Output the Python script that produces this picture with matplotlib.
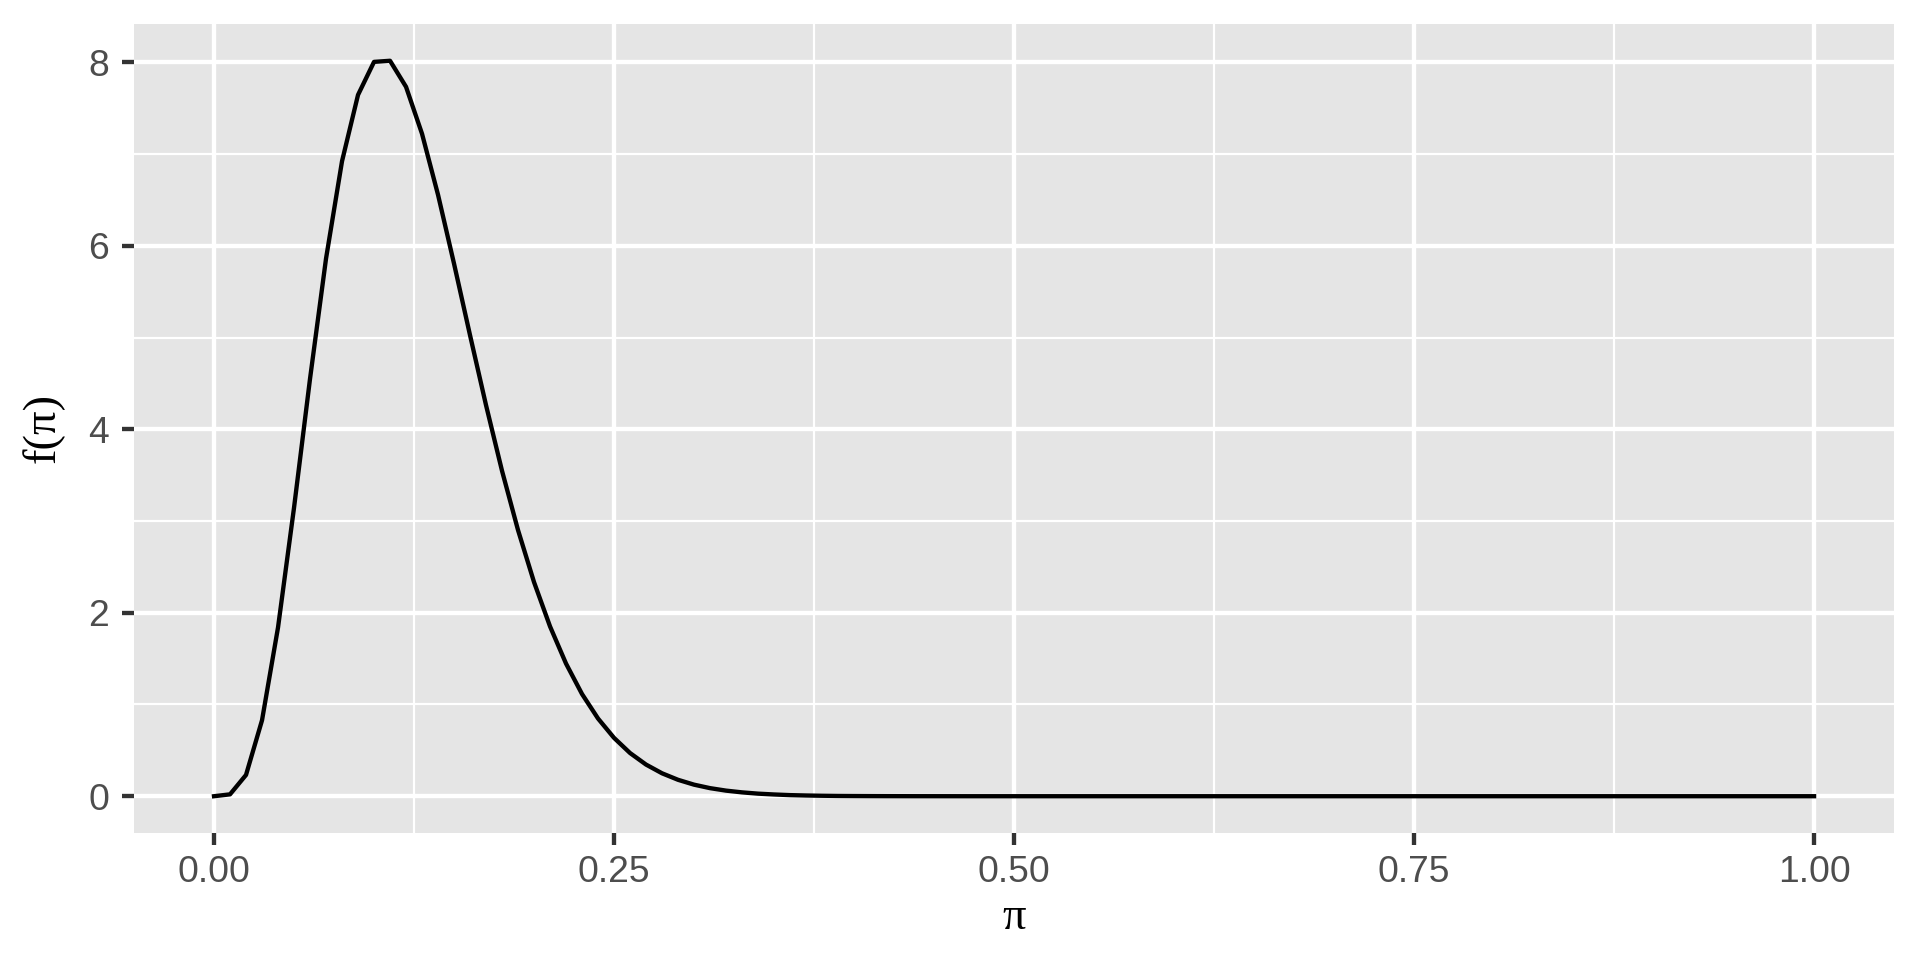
import matplotlib
matplotlib.use('Agg')
import matplotlib.pyplot as plt
from matplotlib.ticker import MultipleLocator

# density, one value per 0.01 step of pi
pi_vals = [i / 100 for i in range(101)]
density = [0.0, 0.0205, 0.232, 0.828, 1.840, 3.145, 4.551, 5.861, 6.923, 7.646,
           8.006, 8.018, 7.734, 7.222, 6.557, 5.806, 5.026, 4.263, 3.547, 2.901,
           2.334, 1.851, 1.446, 1.114, 0.847, 0.636, 0.471, 0.345, 0.250, 0.179,
           0.126, 0.088, 0.061, 0.042, 0.028, 0.019, 0.012, 0.008, 0.005, 0.003,
           0.002, 0.0013, 0.0008, 0.0005, 0.0003, 0.0002, 0.0001] + [0.0] * 54

x_ticks = [0.0, 0.25, 0.5, 0.75, 1.0]
x_labels = ['0.00', '0.25', '0.50', '0.75', '1.00']
y_ticks = [0, 2, 4, 6, 8]

fig = plt.figure(figsize=(8, 4), dpi=240)
ax = fig.add_axes([0.0698, 0.1323, 0.9167, 0.8427])
ax.set_facecolor('#E5E5E5')
for s in ax.spines.values():
    s.set_visible(False)

ax.plot(pi_vals, density, color='black', lw=1.3, zorder=3)

ymax = max(density)
ax.set_xlim(-0.05, 1.05)
ax.set_ylim(-0.05 * ymax, ymax * 1.05)

ax.set_xticks(x_ticks)
ax.set_xticklabels(x_labels)
ax.set_yticks(y_ticks)
ax.xaxis.set_minor_locator(MultipleLocator(0.125))
ax.yaxis.set_minor_locator(MultipleLocator(1))
ax.grid(which='major', color='white', lw=1.3)
ax.grid(which='minor', color='white', lw=0.65)
ax.set_axisbelow(True)
ax.tick_params(which='major', length=3.5, width=1.3, color='#333333',
               labelcolor='#4D4D4D', labelsize=11.2, pad=3)
ax.tick_params(axis='y', which='major', pad=4)
ax.tick_params(which='minor', length=0)
for lab in ax.get_xticklabels() + ax.get_yticklabels():
    lab.set_family('Liberation Sans')

ax.set_xlabel('π', family='Liberation Serif', fontsize=14, labelpad=2)
ax.set_ylabel('f(π)', family='Liberation Serif', fontsize=14, labelpad=7)

fig.savefig('out.png', dpi=240)
